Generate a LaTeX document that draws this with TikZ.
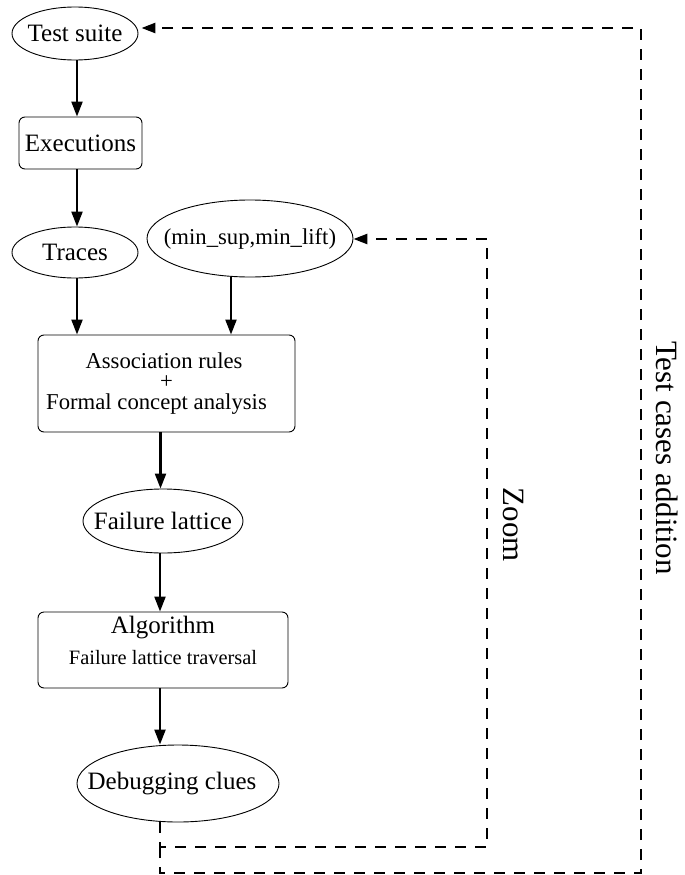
\documentclass[tikz,border=0pt]{standalone}
\usepackage{fontspec}
\setmainfont{Liberation Serif}
\usetikzlibrary{shapes.geometric,arrows.meta}
\begin{document}
\begin{tikzpicture}[x=1pt,y=-1pt,
  ell/.style={draw, ellipse, line width=0.9pt, inner sep=0pt, font=\fontsize{25}{30}\selectfont},
  rbox/.style={draw, rounded corners=6pt, line width=0.9pt, inner sep=0pt, align=center},
  arr/.style={line width=2.2pt, -{Triangle[length=15pt,width=11pt]}},
  darr/.style={line width=2.6pt, dash pattern=on 11pt off 9pt, -{Triangle[length=14pt,width=10pt]}},
  vlab/.style={rotate=-90, inner sep=0pt, font=\fontsize{31}{36}\selectfont}]
\useasboundingbox (0,0) rectangle (685,875);
% nodes
\node[ell, minimum width=126pt, minimum height=53pt] (ts) at (75,33.5) {\makebox[0pt]{Test suite}};
\node[rbox, minimum width=123pt, minimum height=52pt, font=\fontsize{25}{30}\selectfont] (ex) at (80.5,143) {Executions};
\node[ell, minimum width=126pt, minimum height=51pt] (tr) at (75,252.5) {\makebox[0pt]{Traces}};
\node[ell, minimum width=206pt, minimum height=77pt, font=\fontsize{22.7}{27}\selectfont] (ms) at (250,238.5) {\makebox[0pt]{(min\_sup,min\_lift)}};
\node[rbox, minimum width=257pt, minimum height=97pt, font=\fontsize{22.7}{20.5}\selectfont] (ar) at (166.5,383.5) {Association rules\hspace*{5pt}\\+\hspace*{19pt}\\Formal concept analysis\hspace*{20pt}};
\node[ell, minimum width=160pt, minimum height=64pt] (fl) at (163,521) {\makebox[0pt]{Failure lattice}};
\node[rbox, minimum width=250pt, minimum height=76pt] (al) at (163,650) {\fontsize{25}{30}\selectfont Algorithm\\[11pt]\fontsize{20.4}{24}\selectfont Failure lattice traversal\rule[-19pt]{0pt}{1pt}};
\node[ell, minimum width=202pt, minimum height=77pt] (dc) at (178,783.5) {\makebox[0pt]{\hspace*{-12pt}Debugging clues}};
% labels
\node[vlab] (zl) at (513,525) {Zoom};
\node[vlab] (tl) at (667,458) {Test cases addition};
% solid arrows
\draw[arr] ([xshift=2pt]ts.south) -- ([xshift=2pt]ts.south |- ex.north);
\draw[arr] ([xshift=-3.5pt]ex.south) -- ([xshift=-3.5pt]ex.south |- tr.north);
\draw[arr] ([xshift=2pt]tr.south) -- ([xshift=2pt]tr.south |- ar.north);
\draw[arr] ([xshift=-19pt]ms.south) -- ([xshift=-19pt]ms.south |- ar.north);
\draw[arr] ([xshift=-6pt]ar.south) -- ([xshift=-6pt]ar.south |- fl.north);
\draw[arr] ([xshift=-3pt]fl.south) -- ([xshift=-3pt]fl.south |- al.north);
\draw[arr] ([xshift=-3pt]al.south) -- ([xshift=-3pt]al.south |- dc.north);
% dashed feedback loops
\coordinate (z1) at (160,847);
\coordinate (z2) at (487,847);
\coordinate (z3) at (487,239);
\coordinate (t1) at (160,873);
\coordinate (t2) at (641,873);
\coordinate (t3) at (641,28);
\draw[darr] ([xshift=-18pt]dc.south) -- (z1) -- (z2) -- (z3) -- (z3 -| ms.east);
\draw[darr, shorten >=3pt] (z1) -- (t1) -- (t2) -- (t3) -- (t3 -| ts.east);
\end{tikzpicture}
\end{document}
